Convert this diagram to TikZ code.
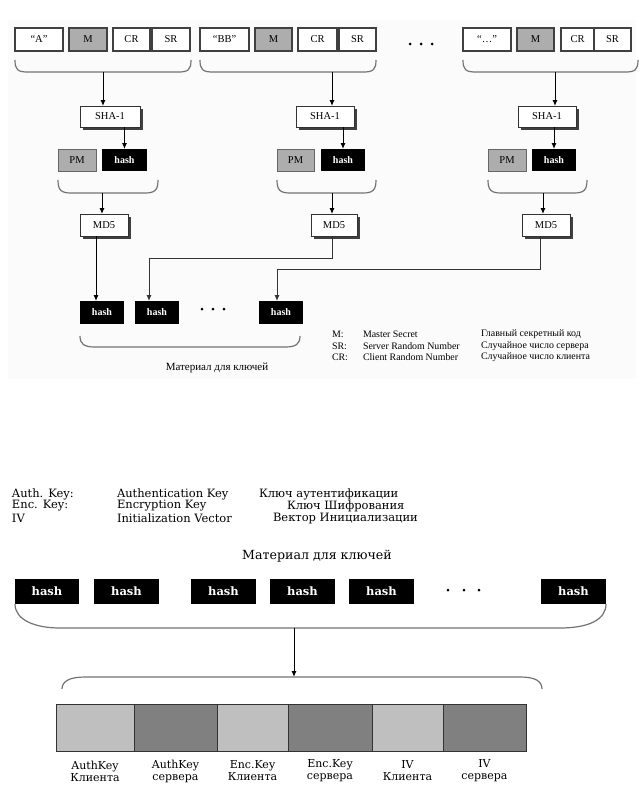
\documentclass[tikz,border=0pt]{standalone}
\usepackage{fontspec}
\setmainfont{Liberation Serif}
\newfontfamily\bfam{DejaVu Serif}
\usetikzlibrary{arrows.meta,shadows}
\definecolor{panel}{gray}{0.985}
\definecolor{lightkey}{gray}{0.75}
\definecolor{darkkey}{gray}{0.5}
\begin{document}
\begin{tikzpicture}[x=1pt,y=-1pt,
  every node/.style={inner sep=0pt,outer sep=0pt},
  bw/.style={minimum width=#1pt},
  tbox/.style={draw=black!75,line width=1.1pt,fill=white,font=\fontsize{10.5}{12}\selectfont,minimum height=23pt},
  mbox/.style={tbox,fill=black!32},
  hbox/.style={fill=black,text=white,font=\fontsize{10}{12}\selectfont\bfseries,minimum height=22pt},
  pmbox/.style={draw=black!60,line width=1pt,fill=black!32,font=\fontsize{10.5}{12}\selectfont,minimum height=22pt},
  fbox/.style={draw=black!80,line width=1pt,fill=white,font=\fontsize{10.5}{12}\selectfont,minimum height=21pt,
    drop shadow={shadow xshift=2.5pt,shadow yshift=-2.5pt,fill=black!75,opacity=1}},
  arr/.style={-{Latex[length=6pt,width=5pt]},line width=1pt},
  brc/.style={draw=black!55,line width=1.2pt},
  leg/.style={anchor=west,font=\fontsize{9.9}{12}\selectfont},
  bleg/.style={anchor=west,font=\bfam\fontsize{11.5}{12}\selectfont},
  bhash/.style={fill=black,text=white,font=\bfam\bfseries\fontsize{11.5}{12}\selectfont,minimum height=25pt,bw=65},
  keyL/.style={draw=black!80,line width=1pt,fill=lightkey,minimum height=47pt},
  keyD/.style={draw=black!80,line width=1pt,fill=darkkey,minimum height=47pt},
  klab/.style={align=center,font=\bfam\fontsize{11}{12}\selectfont},
  dot/.style={circle,fill=black,minimum size=3pt},
]
\useasboundingbox (0,0) rectangle (643,806);
\fill[panel] (8,20) rectangle (636,379);

% ---------- top row ----------
\node[tbox,bw=48] (qA) at (39,39.5) {“A”};
\node[mbox,bw=38] (m1) at (88,39.5) {M};
\node[tbox,bw=37] (cr1) at (131.5,39.5) {CR};
\node[tbox,bw=38] (sr1) at (171,39.5) {SR};
\node[tbox,bw=49] (qB) at (224.5,39.5) {“BB”};
\node[mbox,bw=37] (m2) at (273.5,39.5) {M};
\node[tbox,bw=39] (cr2) at (317.5,39.5) {CR};
\node[tbox,bw=37] (sr2) at (357.5,39.5) {SR};
\node[tbox,bw=48] (qC) at (487,39.5) {“…”};
\node[mbox,bw=37] (m3) at (535.5,39.5) {M};
\node[tbox,bw=33] (cr3) at (577.5,39.5) {CR};
\node[tbox,bw=37] (sr3) at (612.5,39.5) {SR};
\node[dot] (d1) at (410,44) {};
\node[dot] (d2) at (421,44) {};
\node[dot] (d3) at (432,44) {};

% braces under top row
\draw[brc] (15,60) .. controls (15,70) and (18,72) .. (28,72) -- (178,72) .. controls (188,72) and (191,70) .. (191,60);
\draw[brc] (200,60) .. controls (200,70) and (203,72) .. (213,72) -- (363,72) .. controls (373,72) and (376,70) .. (376,60);
\draw[brc] (463,60) .. controls (463,70) and (466,72) .. (476,72) -- (625,72) .. controls (635,72) and (638,70) .. (638,60);
\coordinate (b1) at (103,72);
\coordinate (b2) at (332,72);
\coordinate (b3) at (555,72);

% SHA-1 boxes
\node[fbox,bw=60] (sha1) at (110,116.5) {SHA-1};
\node[fbox,bw=58] (sha2) at (325,116.5) {SHA-1};
\node[fbox,bw=58] (sha3) at (547,116.5) {SHA-1};
\draw[arr] (b1) -- (b1 |- sha1.north);
\draw[arr] (b2) -- (b2 |- sha2.north);
\draw[arr] (b3) -- (b3 |- sha3.north);

% PM / hash
\node[pmbox,bw=38] (pm1) at (77,160) {PM};
\node[hbox,bw=45] (h1) at (124.5,160) {hash};
\node[pmbox,bw=37] (pm2) at (295.5,160) {PM};
\node[hbox,bw=44] (h2) at (343,160) {hash};
\node[pmbox,bw=38] (pm3) at (507,160) {PM};
\node[hbox,bw=44] (h3) at (554,160) {hash};
\draw[arr] (h1 |- sha1.south) -- (h1.north);
\draw[arr] (h2 |- sha2.south) -- (h2.north);
\draw[arr] (h3 |- sha3.south) -- (h3.north);

% lower braces
\draw[brc] (58,180) .. controls (58,190) and (61,193) .. (71,193) -- (145,193) .. controls (155,193) and (158,190) .. (158,180);
\draw[brc] (277,180) .. controls (277,190) and (280,193) .. (290,193) -- (363,193) .. controls (373,193) and (376,190) .. (376,180);
\draw[brc] (488,180) .. controls (488,190) and (491,193) .. (501,193) -- (574,193) .. controls (584,193) and (587,190) .. (587,180);
\coordinate (c1) at (102,193);
\coordinate (c2) at (332,193);
\coordinate (c3) at (543,193);

% MD5 boxes
\node[fbox,bw=48,minimum height=22pt] (md1) at (104,225) {MD5};
\node[fbox,bw=46,minimum height=22pt] (md2) at (334,225) {MD5};
\node[fbox,bw=48,minimum height=22pt] (md3) at (546,225) {MD5};
\draw[arr] (c1) -- (c1 |- md1.north);
\draw[arr] (c2) -- (c2 |- md2.north);
\draw[arr] (c3) -- (c3 |- md3.north);

% hash row
\node[hbox,bw=44,minimum height=23pt] (ha) at (102,312.5) {hash};
\node[hbox,bw=44,minimum height=23pt] (hb) at (157,312.5) {hash};
\node[hbox,bw=44,minimum height=23pt] (hc) at (281,312.5) {hash};
\node[dot] (e1) at (202,309) {};
\node[dot] (e2) at (213,309) {};
\node[dot] (e3) at (224,309) {};
\coordinate (t1) at (96,236);
\coordinate (t2) at (332,236);
\coordinate (t3) at (540,236);
\draw[arr] (t1 |- md1.south) -- (t1 |- ha.north);
\draw[arr,black!80] (t2 |- md2.south) -- (332,258) -- (149,258) -- ([xshift=-8pt]hb.north);
\draw[arr,black!80] (t3 |- md3.south) -- (540,269) -- (277,269) -- ([xshift=-4pt]hc.north);

\draw[brc] (80,336) .. controls (80,344) and (84,347) .. (95,347) -- (285,347) .. controls (296,347) and (300,344) .. (300,336);
\node[font=\fontsize{11}{12}\selectfont] (mat1) at (217,368) {Материал для ключей};

% legend top
\node[leg] (lm) at (332,334) {M:};
\node[leg] (lsr) at (332,346) {SR:};
\node[leg] (lcr) at (332,357.5) {CR:};
\node[leg] (lm2) at (363,334) {Master Secret};
\node[leg] (lsr2) at (363,346) {Server Random Number};
\node[leg] (lcr2) at (363,357.5) {Client Random Number};
\node[leg] (lm3) at (481,334) {Главный секретный код};
\node[leg] (lsr3) at (481,346) {Случайное число сервера};
\node[leg] (lcr3) at (481,357.5) {Случайное число клиента};

% ---------- bottom ----------
\node[bleg] (ak) at (12,494) {Auth. Key:};
\node[bleg] (ek) at (12,506) {Enc. Key:};
\node[bleg] (iv) at (12,518) {IV};
\node[bleg] (ak2) at (117,494) {Authentication Key};
\node[bleg] (ek2) at (117,506) {Encryption Key};
\node[bleg] (iv2) at (117,518) {Initialization Vector};
\node[bleg] (ak3) at (259,494) {Ключ аутентификации};
\node[bleg] (ek3) at (287,506) {Ключ Шифрования};
\node[bleg] (iv3) at (273,518) {Вектор Инициализации};
\node[font=\bfam\fontsize{12.6}{14}\selectfont] (mat2) at (317,556) {Материал для ключей};

\node[bhash,bw=64] (k1) at (47,591.5) {hash};
\node[bhash] (k2) at (126.5,591.5) {hash};
\node[bhash] (k3) at (223.5,591.5) {hash};
\node[bhash] (k4) at (302.5,591.5) {hash};
\node[bhash] (k5) at (381.5,591.5) {hash};
\node[bhash] (k6) at (573.5,591.5) {hash};
\node[dot] (f1) at (448,590) {};
\node[dot] (f2) at (464,590) {};
\node[dot] (f3) at (479,590) {};

\draw[brc] (k1.south west) .. controls (15,620) and (35,628) .. (60,628) -- (560,628) .. controls (588,628) and (606,620) .. (k6.south east);
\coordinate (g1) at (294,628);
\coordinate (g2) at (294,677);
\draw[arr] (g1) -- (g2);
\draw[brc] (62,689) .. controls (62,681) and (70,677) .. (85,677) -- (520,677) .. controls (535,677) and (542,681) .. (542,689);

\node[keyL,bw=78] (kb1) at (95,727.5) {};
\node[keyD,bw=83] (kb2) at (175.5,727.5) {};
\node[keyL,bw=71] (kb3) at (252.5,727.5) {};
\node[keyD,bw=84] (kb4) at (330,727.5) {};
\node[keyL,bw=71] (kb5) at (407.5,727.5) {};
\node[keyD,bw=83] (kb6) at (484.5,727.5) {};

\node[klab] (l1) at (95,771) {AuthKey\\Клиента};
\node[klab] (l2) at (175.5,771) {AuthKey\\сервера};
\node[klab] (l3) at (252.5,771) {Enc.Key\\Клиента};
\node[klab] (l4) at (330,771) {Enc.Key\\сервера};
\node[klab] (l5) at (407.5,771) {IV\\Клиента};
\node[klab] (l6) at (484.5,771) {IV\\сервера};
\end{tikzpicture}
\end{document}
